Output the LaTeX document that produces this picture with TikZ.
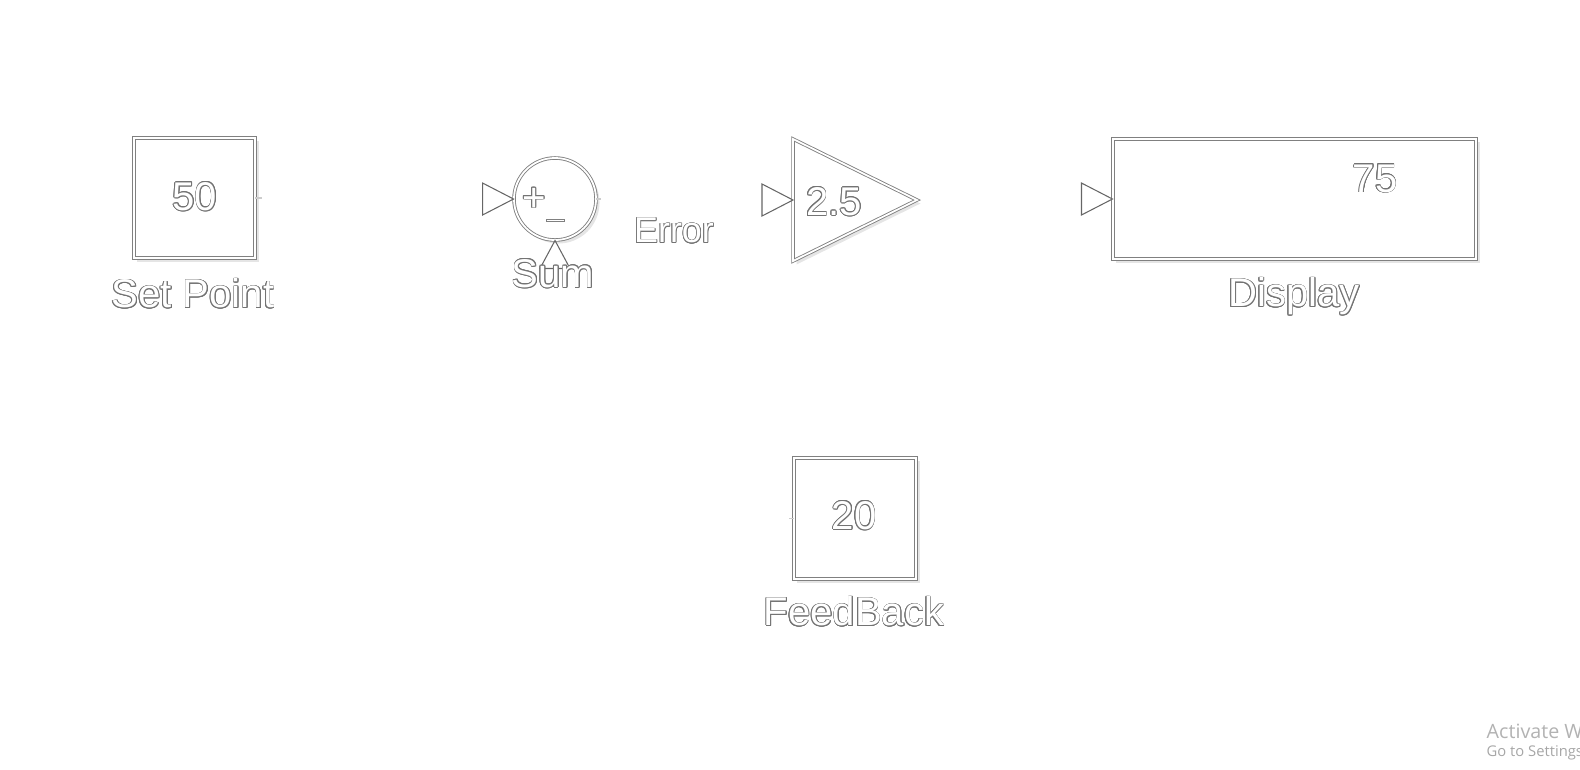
\documentclass[tikz,border=0pt]{standalone}
\usepackage{fontspec}
\setmainfont{Liberation Sans}
\newfontfamily\winfont{Open Sans}
\usepackage{contour}
\contourlength{0.22pt}
\usetikzlibrary{shadows}

\tikzset{
  blk/.style={draw=black!50, double=white, double distance=0.5pt, line width=0.25pt, fill=white,
    drop shadow={shadow xshift=0.035cm, shadow yshift=-0.035cm, opacity=0.25, fill=black!40}},
  port/.style={draw=black!60, line width=0.3pt},
  tick/.style={draw=black!20, line width=0.4pt},
  lbl/.style={font=\fontsize{11.4}{13}\selectfont, inner sep=0pt},
}
\newcommand{\hollow}[1]{\contour{black!55}{\textcolor{white}{#1}}}

\begin{document}
\begin{tikzpicture}[x=0.01cm, y=-0.01cm]
  \useasboundingbox (0,0) rectangle (1580,769);

  % constant blocks
  \node[blk, minimum width=1.21cm, minimum height=1.2cm] (setpt) at (194.5,198) {};
  \node[lbl] (setptval) at (195,197) {\hollow{50}};
  \node[lbl] (setptlbl) at (193,294) {\hollow{Set Point}};
  \draw[tick] (setpt.east) -- ++(7,0);

  \node[blk, minimum width=1.22cm, minimum height=1.21cm] (fdbk) at (855,518.5) {};
  \node[lbl] (fdbkval) at (854,516) {\hollow{20}};
  \node[lbl] (fdbklbl) at (854,612) {\hollow{FeedBack}};
  \draw[tick] (fdbk.west) -- ++(-5,0);

  % sum
  \node[blk, circle, minimum size=0.82cm, inner sep=0pt] (sum) at (555,199) {};
  \node[lbl] (plus) at (534,200) {\hollow{+}};
  \draw[black!50, line width=0.25pt] (546,219) rectangle (564,221.5);
  \draw[port] (sum.west) -- ++(-31,-16) -- ++(0,32) -- cycle;
  \draw[port] (sum.south) -- ++(-15,28) -- ++(30,0) -- cycle;
  \draw[tick] (sum.east) -- ++(5,0);
  \node[lbl] (sumlbl) at (553,274) {\hollow{Sum}};
  \node[lbl, font=\fontsize{10.2}{12}\selectfont] (err) at (674,231) {\hollow{Error}};

  % gain
  \coordinate (gainin) at (793,200);
  \draw[blk] (793,139) -- (917,200) -- (793,261) -- cycle;
  \draw[port] (gainin) -- ++(-31,-16) -- ++(0,32) -- cycle;
  \node[lbl] (gainval) at (834,202) {\hollow{2.5}};

  % display
  \node[blk, minimum width=3.63cm, minimum height=1.2cm] (disp) at (1294.5,199) {};
  \draw[port] (disp.west) -- ++(-31,-16) -- ++(0,32) -- cycle;
  \node[lbl] (dispval) at (1375,179) {\hollow{75}};
  \node[lbl] (displbl) at (1294,297) {\hollow{Display}};

  % watermark
  \node[anchor=west, inner sep=0pt, text=black!30, font=\winfont\fontsize{5.6}{6}\selectfont] (act) at (1486,731) {Activate Windows};
  \node[anchor=west, inner sep=0pt, text=black!35, font=\winfont\fontsize{4.2}{5}\selectfont] (sett) at (1486,753) {Go to Settings to activate Windows.};
\end{tikzpicture}
\end{document}
